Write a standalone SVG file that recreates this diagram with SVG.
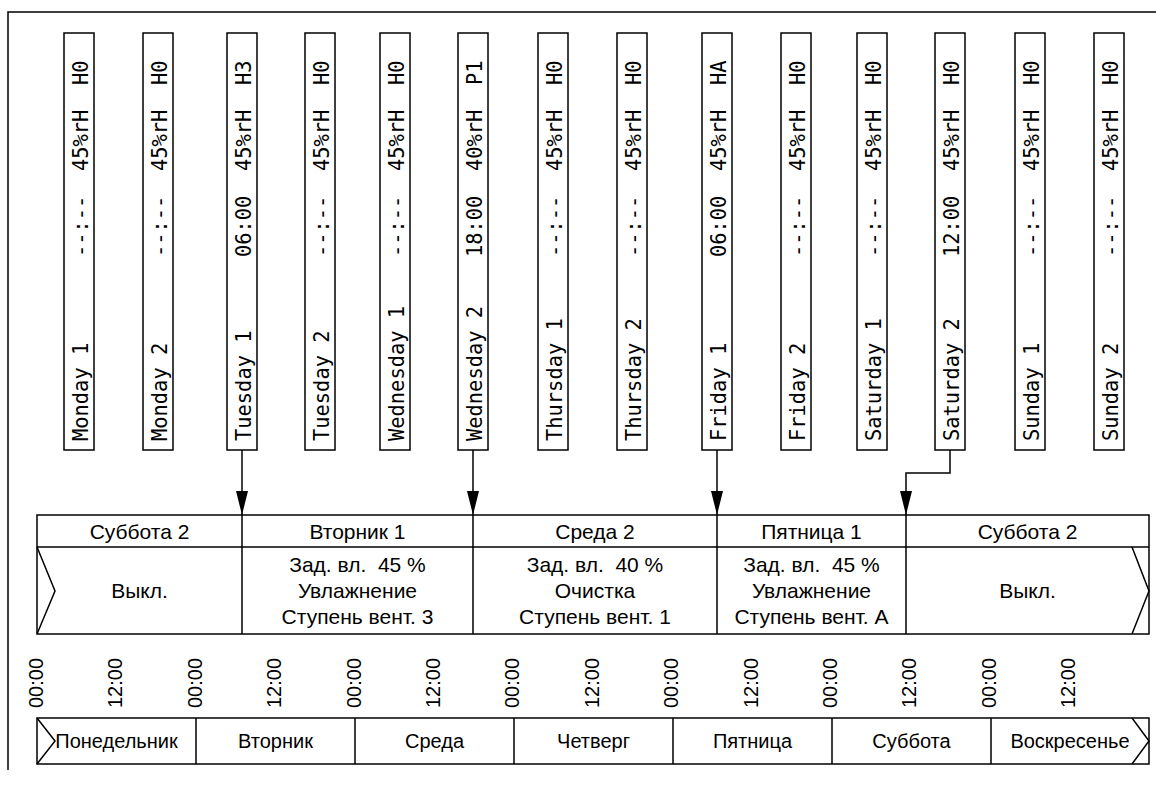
<svg xmlns="http://www.w3.org/2000/svg" width="1156" height="788" viewBox="0 0 1156 788">
<style>
.ln{fill:none;stroke:#000;stroke-width:1.5}
.box{fill:#fff;stroke:#000;stroke-width:1.5}
.mono{font-family:"DejaVu Sans Mono","Liberation Mono",monospace;font-size:20.4px;fill:#000}
.sans{font-family:"Liberation Sans",Arial,sans-serif;font-size:20px;fill:#000}
.big{font-size:21px}
.c{text-anchor:middle}
</style>
<defs>
<marker id="ah" markerWidth="24" markerHeight="12" refX="24" refY="6" orient="auto" markerUnits="userSpaceOnUse" viewBox="0 0 24 12">
<path d="M0,0 L24,6 L0,12 Z" fill="#000"/>
</marker>
</defs>
<rect width="1156" height="788" fill="#fff"/>
<path class="ln" d="M8,770 V12 H1156"/>

<g id="slots">
<g id="slot-mon1" transform="translate(79,450) rotate(-90)"><rect class="box" x="0" y="-15" width="417" height="30"/><text class="mono" x="9" y="8.5">Monday 1</text><text class="mono" x="193" y="8.5">--:--</text><text class="mono" x="279" y="8.5">45%rH</text><text class="mono" x="365" y="8.5">H0</text></g>
<g id="slot-mon2" transform="translate(158,450) rotate(-90)"><rect class="box" x="0" y="-15" width="417" height="30"/><text class="mono" x="9" y="8.5">Monday 2</text><text class="mono" x="193" y="8.5">--:--</text><text class="mono" x="279" y="8.5">45%rH</text><text class="mono" x="365" y="8.5">H0</text></g>
<g id="slot-tue1" transform="translate(242,450) rotate(-90)"><rect class="box" x="0" y="-15" width="417" height="30"/><text class="mono" x="9" y="8.5">Tuesday 1</text><text class="mono" x="193" y="8.5">06:00</text><text class="mono" x="279" y="8.5">45%rH</text><text class="mono" x="365" y="8.5">H3</text></g>
<g id="slot-tue2" transform="translate(320,450) rotate(-90)"><rect class="box" x="0" y="-15" width="417" height="30"/><text class="mono" x="9" y="8.5">Tuesday 2</text><text class="mono" x="193" y="8.5">--:--</text><text class="mono" x="279" y="8.5">45%rH</text><text class="mono" x="365" y="8.5">H0</text></g>
<g id="slot-wed1" transform="translate(395,450) rotate(-90)"><rect class="box" x="0" y="-15" width="417" height="30"/><text class="mono" x="9" y="8.5">Wednesday 1</text><text class="mono" x="193" y="8.5">--:--</text><text class="mono" x="279" y="8.5">45%rH</text><text class="mono" x="365" y="8.5">H0</text></g>
<g id="slot-wed2" transform="translate(473,450) rotate(-90)"><rect class="box" x="0" y="-15" width="417" height="30"/><text class="mono" x="9" y="8.5">Wednesday 2</text><text class="mono" x="193" y="8.5">18:00</text><text class="mono" x="279" y="8.5">40%rH</text><text class="mono" x="365" y="8.5">P1</text></g>
<g id="slot-thu1" transform="translate(553,450) rotate(-90)"><rect class="box" x="0" y="-15" width="417" height="30"/><text class="mono" x="9" y="8.5">Thursday 1</text><text class="mono" x="193" y="8.5">--:--</text><text class="mono" x="279" y="8.5">45%rH</text><text class="mono" x="365" y="8.5">H0</text></g>
<g id="slot-thu2" transform="translate(632,450) rotate(-90)"><rect class="box" x="0" y="-15" width="417" height="30"/><text class="mono" x="9" y="8.5">Thursday 2</text><text class="mono" x="193" y="8.5">--:--</text><text class="mono" x="279" y="8.5">45%rH</text><text class="mono" x="365" y="8.5">H0</text></g>
<g id="slot-fri1" transform="translate(717,450) rotate(-90)"><rect class="box" x="0" y="-15" width="417" height="30"/><text class="mono" x="9" y="8.5">Friday 1</text><text class="mono" x="193" y="8.5">06:00</text><text class="mono" x="279" y="8.5">45%rH</text><text class="mono" x="365" y="8.5">HA</text></g>
<g id="slot-fri2" transform="translate(796,450) rotate(-90)"><rect class="box" x="0" y="-15" width="417" height="30"/><text class="mono" x="9" y="8.5">Friday 2</text><text class="mono" x="193" y="8.5">--:--</text><text class="mono" x="279" y="8.5">45%rH</text><text class="mono" x="365" y="8.5">H0</text></g>
<g id="slot-sat1" transform="translate(872,450) rotate(-90)"><rect class="box" x="0" y="-15" width="417" height="30"/><text class="mono" x="9" y="8.5">Saturday 1</text><text class="mono" x="193" y="8.5">--:--</text><text class="mono" x="279" y="8.5">45%rH</text><text class="mono" x="365" y="8.5">H0</text></g>
<g id="slot-sat2" transform="translate(950,450) rotate(-90)"><rect class="box" x="0" y="-15" width="417" height="30"/><text class="mono" x="9" y="8.5">Saturday 2</text><text class="mono" x="193" y="8.5">12:00</text><text class="mono" x="279" y="8.5">45%rH</text><text class="mono" x="365" y="8.5">H0</text></g>
<g id="slot-sun1" transform="translate(1030,450) rotate(-90)"><rect class="box" x="0" y="-15" width="417" height="30"/><text class="mono" x="9" y="8.5">Sunday 1</text><text class="mono" x="193" y="8.5">--:--</text><text class="mono" x="279" y="8.5">45%rH</text><text class="mono" x="365" y="8.5">H0</text></g>
<g id="slot-sun2" transform="translate(1109,450) rotate(-90)"><rect class="box" x="0" y="-15" width="417" height="30"/><text class="mono" x="9" y="8.5">Sunday 2</text><text class="mono" x="193" y="8.5">--:--</text><text class="mono" x="279" y="8.5">45%rH</text><text class="mono" x="365" y="8.5">H0</text></g>
</g>

<g id="connectors">
<path class="ln" d="M242,450 V515" marker-end="url(#ah)"/>
<path class="ln" d="M473,450 V515" marker-end="url(#ah)"/>
<path class="ln" d="M717,450 V515" marker-end="url(#ah)"/>
<path class="ln" d="M950,450 V473 H906 V515" marker-end="url(#ah)"/>
</g>

<g id="schedule">
<rect class="ln" x="37" y="515" width="1112" height="119"/>
<path class="ln" d="M37,547 H1149 M242,515 V634 M473,515 V634 M717,515 V634 M906,515 V634"/>
<path class="ln" d="M37,547 L55,591 L37,634 M1132,547 L1149,591 L1132,634"/>
<g id="seg-sat2a"><text class="sans big c" x="139.5" y="539">Суббота 2</text><text class="sans big c" x="139.5" y="598">Выкл.</text></g>
<g id="seg-tue1"><text class="sans big c" x="357.5" y="539">Вторник 1</text><text class="sans big c" x="357.5" y="572" xml:space="preserve">Зад. вл.  45 %</text><text class="sans big c" x="357.5" y="598">Увлажнение</text><text class="sans big c" x="357.5" y="624">Ступень вент. 3</text></g>
<g id="seg-wed2"><text class="sans big c" x="595" y="539">Среда 2</text><text class="sans big c" x="595" y="572" xml:space="preserve">Зад. вл.  40 %</text><text class="sans big c" x="595" y="598">Очистка</text><text class="sans big c" x="595" y="624">Ступень вент. 1</text></g>
<g id="seg-fri1"><text class="sans big c" x="811.5" y="539">Пятница 1</text><text class="sans big c" x="811.5" y="572" xml:space="preserve">Зад. вл.  45 %</text><text class="sans big c" x="811.5" y="598">Увлажнение</text><text class="sans big c" x="811.5" y="624">Ступень вент. A</text></g>
<g id="seg-sat2b"><text class="sans big c" x="1027.5" y="539">Суббота 2</text><text class="sans big c" x="1027.5" y="598">Выкл.</text></g>
</g>

<g id="times">
<text class="sans" transform="translate(43,708) rotate(-90)">00:00</text>
<text class="sans" transform="translate(122.4,708) rotate(-90)">12:00</text>
<text class="sans" transform="translate(201.8,708) rotate(-90)">00:00</text>
<text class="sans" transform="translate(281.2,708) rotate(-90)">12:00</text>
<text class="sans" transform="translate(360.6,708) rotate(-90)">00:00</text>
<text class="sans" transform="translate(440,708) rotate(-90)">12:00</text>
<text class="sans" transform="translate(519.4,708) rotate(-90)">00:00</text>
<text class="sans" transform="translate(598.8,708) rotate(-90)">12:00</text>
<text class="sans" transform="translate(678.2,708) rotate(-90)">00:00</text>
<text class="sans" transform="translate(757.6,708) rotate(-90)">12:00</text>
<text class="sans" transform="translate(837,708) rotate(-90)">00:00</text>
<text class="sans" transform="translate(916.4,708) rotate(-90)">12:00</text>
<text class="sans" transform="translate(995.8,708) rotate(-90)">00:00</text>
<text class="sans" transform="translate(1075.2,708) rotate(-90)">12:00</text>
</g>

<g id="days">
<rect class="ln" x="37" y="718" width="1112" height="46"/>
<path class="ln" d="M196,718 V764 M355,718 V764 M514,718 V764 M673,718 V764 M832,718 V764 M991,718 V764"/>
<path class="ln" d="M37,718 L55,741 L37,764 M1132,718 L1149,741 L1132,764"/>
<text class="sans c" x="116.5" y="748">Понедельник</text>
<text class="sans c" x="275.5" y="748">Вторник</text>
<text class="sans c" x="434.5" y="748">Среда</text>
<text class="sans c" x="593.5" y="748">Четверг</text>
<text class="sans c" x="752.5" y="748">Пятница</text>
<text class="sans c" x="911.5" y="748">Суббота</text>
<text class="sans c" x="1070" y="748">Воскресенье</text>
</g>
</svg>
